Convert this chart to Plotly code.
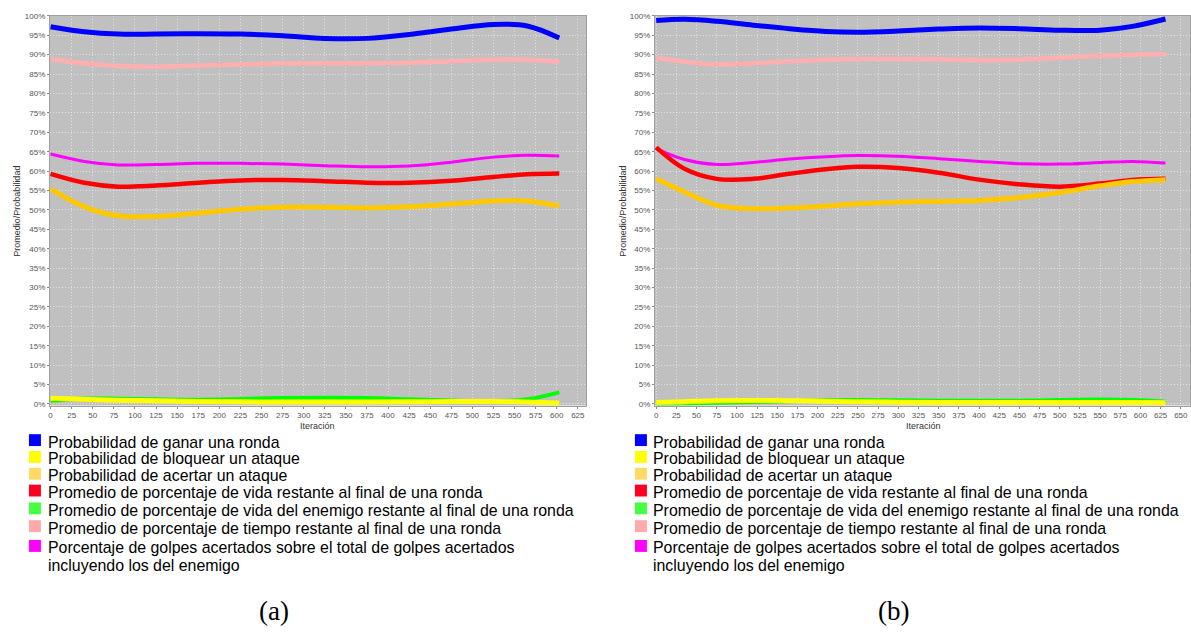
import plotly.graph_objects as go

W, H = 1191, 633

# Series names and colours
series_names = [
    "Probabilidad de ganar una ronda",
    "Probabilidad de bloquear un ataque",
    "Probabilidad de acertar un ataque",
    "Promedio de porcentaje de vida restante al final de una ronda",
    "Promedio de porcentaje de vida del enemigo restante al final de una ronda",
    "Promedio de porcentaje de tiempo restante al final de una ronda",
    "Porcentaje de golpes acertados sobre el total de golpes acertados",
]
legend_last_line = "incluyendo los del enemigo"
line_colors = ["#0000ff", "#ffff00", "#ffc800", "#ff0000", "#00ff00", "#ffafaf", "#ff00ff"]
legend_colors = ["#0000ff", "#ffff00", "#ffd966", "#ff0022", "#44ff44", "#ffaaaa", "#ff00ff"]
line_widths = [5, 5, 5, 4.5, 4, 4.5, 3]

# Panel (a)
iter_a = [0, 40, 80, 125, 175, 225, 275, 325, 375, 425, 475, 525, 565, 603]
ganar_a = [97.2, 95.9, 95.3, 95.3, 95.4, 95.3, 94.9, 94.2, 94.2, 95.2, 96.6, 97.8, 97.4, 94.3]
bloquear_a = [1.5, 1.2, 0.95, 0.8, 0.65, 0.55, 0.5, 0.5, 0.5, 0.55, 0.65, 0.65, 0.5, 0.2]
acertar_a = [55.4, 50.8, 48.5, 48.3, 49.2, 50.2, 50.7, 50.7, 50.5, 50.8, 51.5, 52.3, 52.3, 51.0]
vida_a = [59.3, 57.0, 56.0, 56.3, 57.0, 57.6, 57.7, 57.4, 57.0, 57.0, 57.5, 58.5, 59.2, 59.4]
vida_enemigo_a = [0.8, 1.4, 1.35, 1.2, 1.1, 1.3, 1.55, 1.6, 1.55, 1.2, 0.9, 0.65, 1.2, 3.0]
tiempo_a = [88.9, 87.8, 87.1, 86.9, 87.2, 87.5, 87.7, 87.8, 87.8, 87.9, 88.3, 88.7, 88.7, 88.2]
golpes_a = [64.4, 62.5, 61.6, 61.7, 62.0, 62.0, 61.8, 61.4, 61.1, 61.3, 62.3, 63.6, 64.1, 63.9]

# Panel (b)
iter_b = [0, 35, 75, 120, 165, 210, 250, 300, 350, 400, 450, 500, 550, 590, 631]
ganar_b = [98.8, 99.1, 98.6, 97.6, 96.7, 96.0, 95.8, 96.1, 96.6, 96.9, 96.7, 96.3, 96.3, 97.3, 99.2]
bloquear_b = [0.35, 0.6, 0.85, 0.9, 0.85, 0.7, 0.6, 0.45, 0.4, 0.4, 0.4, 0.4, 0.4, 0.4, 0.3]
acertar_b = [58.0, 54.6, 51.2, 50.3, 50.5, 51.0, 51.6, 52.0, 52.2, 52.4, 53.2, 54.5, 56.2, 57.3, 57.8]
vida_b = [66.1, 60.6, 58.0, 58.0, 59.3, 60.5, 61.1, 60.8, 59.6, 57.8, 56.6, 56.0, 56.8, 57.7, 58.0]
vida_enemigo_b = [0.05, 0.1, 0.3, 0.5, 0.7, 0.95, 1.0, 0.95, 0.85, 0.8, 0.85, 1.0, 1.15, 1.0, 0.6]
tiempo_b = [89.2, 88.2, 87.5, 87.8, 88.3, 88.7, 88.9, 88.9, 88.8, 88.6, 88.7, 89.2, 89.7, 90.0, 90.1]
golpes_b = [65.8, 63.0, 61.7, 62.2, 63.1, 63.7, 64.0, 63.8, 63.2, 62.5, 61.9, 61.8, 62.2, 62.5, 62.1]

panels = [
    ("x", "y", iter_a, [ganar_a, bloquear_a, acertar_a, vida_a, vida_enemigo_a, tiempo_a, golpes_a]),
    ("x2", "y2", iter_b, [ganar_b, bloquear_b, acertar_b, vida_b, vida_enemigo_b, tiempo_b, golpes_b]),
]

fig = go.Figure()
# first series is painted last so it sits on top
for xa, ya, xs, ys in panels:
    for i in reversed(range(len(series_names))):
        fig.add_trace(go.Scatter(
            x=xs, y=ys[i], mode="lines", xaxis=xa, yaxis=ya,
            line=dict(color=line_colors[i], width=line_widths[i], shape="spline", smoothing=1.0),
            showlegend=False, hoverinfo="skip", name=series_names[i],
        ))

def px(x):
    return x / W

def py(y):
    return 1 - y / H

y_dom = [py(406), py(12)]
tick_font = dict(family="Liberation Sans, Arial, sans-serif", size=8, color="#555555")
common_axis = dict(
    showgrid=True, gridcolor="rgba(255,255,255,0.5)", griddash="1px,2px", gridwidth=1,
    zeroline=False, showline=True, linecolor="#a0a0a0", linewidth=1, mirror=True,
    ticks="outside", ticklen=2, tickcolor="#888888", tickfont=tick_font,
)

fig.update_layout(
    width=W, height=H, margin=dict(l=0, r=0, t=0, b=0),
    paper_bgcolor="white", plot_bgcolor="#c0c0c0",
    xaxis=dict(domain=[px(48), px(585)], range=[-0.8, 634.7], dtick=25, tick0=0,
               anchor="y", **common_axis),
    yaxis=dict(domain=y_dom, range=[-0.4, 100], dtick=5, tick0=0, ticksuffix="%",
               anchor="x", **common_axis),
    xaxis2=dict(domain=[px(654), px(1190)], range=[-1.6, 661.4], dtick=25, tick0=0,
                anchor="y2", **common_axis),
    yaxis2=dict(domain=y_dom, range=[-0.4, 100], dtick=5, tick0=0, ticksuffix="%",
                anchor="x2", **common_axis),
)

annotations = []
shapes = []
title_font = dict(family="Liberation Sans, Arial, sans-serif", size=9, color="#333333")
legend_font = dict(family="Liberation Sans, Arial, sans-serif", size=15.9, color="#000000")
caption_font = dict(family="Liberation Serif, DejaVu Serif, serif", size=27, color="#000000")

panel_geom = [
    # (axis-title x, y-title x, square left, text left, caption x, caption)
    (316, 15, 27, 44, 272, "(a)"),
    (923, 622, 634, 650, 893, "(b)"),
]
legend_rows = [441, 458, 475, 492, 510, 528, 548]
text_shift = 2

for xt, yt, sq, tx, cx, cap in panel_geom:
    annotations.append(dict(text="Iteración", x=px(xt), y=py(427), xref="paper", yref="paper",
                            showarrow=False, font=title_font, xanchor="center", yanchor="middle"))
    annotations.append(dict(text="Promedio/Probabilidad", x=px(yt), y=py(209), xref="paper",
                            yref="paper", showarrow=False, font=title_font, textangle=-90,
                            xanchor="center", yanchor="middle"))
    for i, row in enumerate(legend_rows):
        shapes.append(dict(type="rect", xref="paper", yref="paper",
                           x0=px(sq), x1=px(sq + 12), y0=py(row + 6), y1=py(row - 6),
                           fillcolor=legend_colors[i], line=dict(width=0)))
        annotations.append(dict(text=series_names[i], x=px(tx), y=py(row + text_shift),
                                xref="paper", yref="paper", showarrow=False, font=legend_font,
                                xanchor="left", yanchor="middle"))
    annotations.append(dict(text=legend_last_line, x=px(tx), y=py(566 + text_shift), xref="paper",
                            yref="paper", showarrow=False, font=legend_font,
                            xanchor="left", yanchor="middle"))
    annotations.append(dict(text=cap, x=px(cx), y=py(614), xref="paper", yref="paper",
                            showarrow=False, font=caption_font, xanchor="center",
                            yanchor="middle"))

fig.update_layout(annotations=annotations, shapes=shapes)
fig.write_html("out.html")
